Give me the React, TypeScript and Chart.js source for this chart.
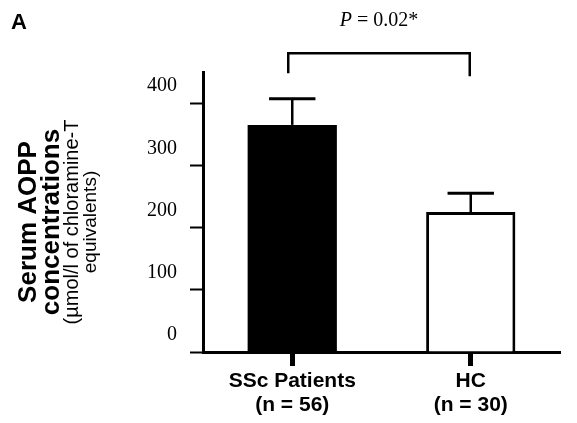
import React, { useEffect, useRef } from 'react';
import { Chart, registerables } from 'chart.js';

Chart.register(...registerables);

const categories = [['SSc Patients', '(n = 56)'], ['HC', '(n = 30)']];
const means = [365, 225];
const errors = [42, 30];
const yTicks = [0, 100, 200, 300, 400];
const fillColors = ['#000000', '#ffffff'];
const borderWidths = [0, 3];
const pValueText = ' = 0.02*';
const titleLines = ['Serum AOPP', 'concentrations', '(\u00b5mol/l of chloramine-T', 'equivalents)'];

const SANS = '"Liberation Sans", Arial, sans-serif';
const SERIF = '"Liberation Serif", "Times New Roman", serif';

export default function App() {
  const ref = useRef<HTMLCanvasElement>(null);

  useEffect(() => {
    const canvas = ref.current;
    if (!canvas) return;

    const annot = {
      id: 'annot',
      afterDatasetsDraw(chart: any) {
        const ctx = chart.ctx as CanvasRenderingContext2D;
        const xs = chart.scales.x;
        const ys = chart.scales.y;
        const meta = chart.getDatasetMeta(0);
        ctx.save();
        ctx.strokeStyle = '#000';
        ctx.lineCap = 'butt';
        meta.data.forEach((bar: any, i: number) => {
          const { x, width } = bar.getProps(['x', 'width'], true);
          const base = ys.getPixelForValue(means[i]);
          const top = ys.getPixelForValue(means[i] + errors[i]);
          ctx.lineWidth = 2.5;
          ctx.beginPath();
          ctx.moveTo(x, base);
          ctx.lineTo(x, top);
          ctx.stroke();
          const half = width * 0.26;
          ctx.lineWidth = 3;
          ctx.beginPath();
          ctx.moveTo(x - half, top);
          ctx.lineTo(x + half, top);
          ctx.stroke();
        });

        // significance bracket
        const lx = xs.getPixelForValue(0) - 4;
        const rx = xs.getPixelForValue(1) - 1;
        const by = ys.getPixelForValue(480);
        ctx.lineWidth = 2.5;
        ctx.beginPath();
        ctx.moveTo(lx, ys.getPixelForValue(448));
        ctx.lineTo(lx, by);
        ctx.lineTo(rx, by);
        ctx.lineTo(rx, ys.getPixelForValue(443));
        ctx.stroke();

        // P value text
        const cy = ys.getPixelForValue(533);
        const cx = (lx + rx) / 2;
        ctx.fillStyle = '#000';
        ctx.textBaseline = 'middle';
        ctx.textAlign = 'left';
        ctx.font = `italic 20px ${SERIF}`;
        const wP = ctx.measureText('P').width;
        ctx.font = `20px ${SERIF}`;
        const wR = ctx.measureText(pValueText).width;
        const sx = cx - (wP + wR) / 2;
        ctx.font = `italic 20px ${SERIF}`;
        ctx.fillText('P', sx, cy);
        ctx.font = `20px ${SERIF}`;
        ctx.fillText(pValueText, sx + wP, cy);

        // panel letter
        ctx.font = `bold 22px ${SANS}`;
        ctx.textBaseline = 'middle';
        ctx.fillText('A', 11, 23);

        // y-axis title (rotated, mixed fonts)
        const midY = 222;
        ctx.translate(0, midY);
        ctx.rotate(-Math.PI / 2);
        ctx.textAlign = 'center';
        ctx.textBaseline = 'alphabetic';
        const specs = [
          { font: `bold 26px ${SANS}`, base: 36 },
          { font: `bold 26px ${SANS}`, base: 59 },
          { font: `20px ${SANS}`, base: 78 },
          { font: `19px ${SANS}`, base: 96 },
        ];
        titleLines.forEach((t, i) => {
          ctx.font = specs[i].font;
          ctx.fillText(t, 0, specs[i].base);
        });
        ctx.restore();
      },
    };

    const chart = new Chart(canvas, {
      type: 'bar',
      data: {
        labels: categories,
        datasets: [
          {
            data: means,
            backgroundColor: fillColors,
            borderColor: '#000',
            borderWidth: borderWidths,
            borderSkipped: 'start',
            barPercentage: 0.5,
            categoryPercentage: 1,
          },
        ],
      },
      options: {
        responsive: false,
        animation: false,
        devicePixelRatio: 1,
        layout: { padding: { left: 0, right: 17, top: 72, bottom: 0 } },
        plugins: {
          legend: { display: false },
          tooltip: { enabled: false },
        },
        scales: {
          x: {
            afterFit(s: any) {
              s.height = 71;
            },
            ticks: {
              color: '#000',
              padding: 3,
              font: { family: SANS, size: 21, weight: 'bold', lineHeight: 24 / 21 },
            },
            grid: {
              drawOnChartArea: false,
              offset: false,
              tickLength: 14,
              tickWidth: 5,
              tickColor: '#000',
            },
            border: { color: '#000', width: 3 },
          },
          y: {
            min: 0,
            max: 450,
            afterFit(s: any) {
              s.width = 203;
            },
            afterBuildTicks(s: any) {
              s.ticks = yTicks.map((v) => ({ value: v }));
            },
            ticks: {
              color: '#000',
              padding: 13,
              labelOffset: -17,
              font: { family: SERIF, size: 20 },
            },
            grid: {
              drawOnChartArea: false,
              tickLength: 13,
              tickWidth: 2,
              tickColor: '#000',
            },
            border: { color: '#000', width: 3 },
          },
        },
      },
      plugins: [annot],
    } as any);

    return () => chart.destroy();
  }, []);

  return (
    <div style={{ position: 'fixed', left: 0, top: 0, width: 577, height: 423, background: '#fff' }}>
      <canvas ref={ref} width={577} height={423} style={{ display: 'block' }} />
    </div>
  );
}
